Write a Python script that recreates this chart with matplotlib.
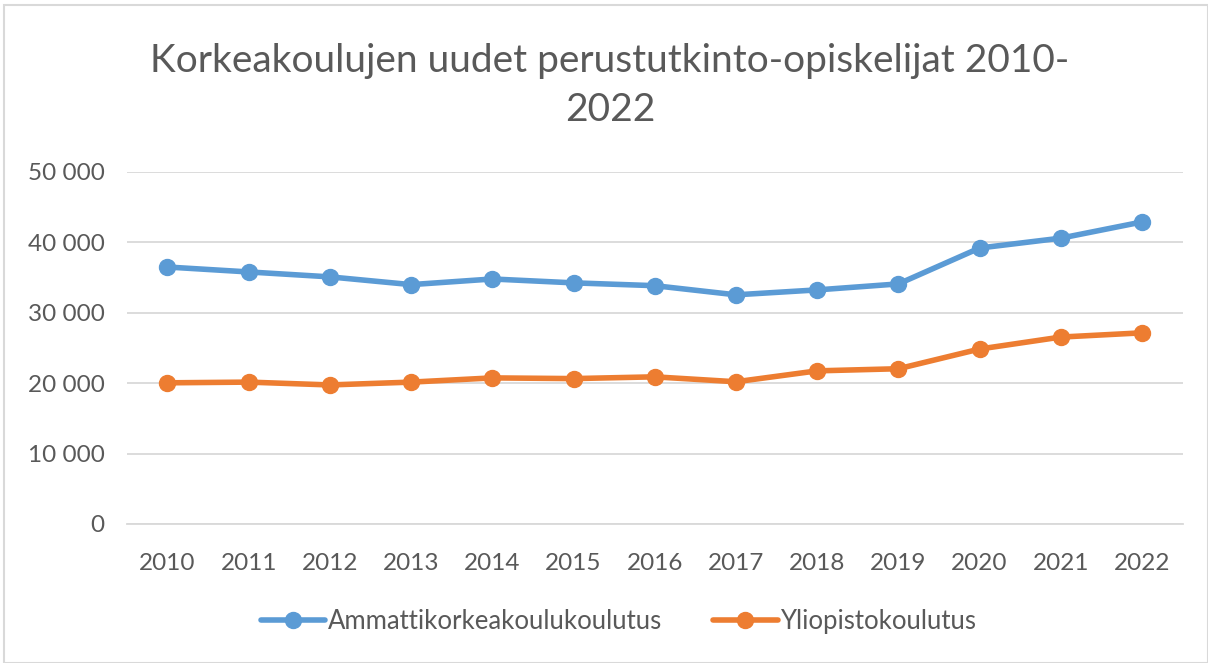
import matplotlib
matplotlib.use("Agg")
import matplotlib.pyplot as plt
from matplotlib.patches import Rectangle
from matplotlib.ticker import FuncFormatter

years = ["2010", "2011", "2012", "2013", "2014", "2015", "2016",
         "2017", "2018", "2019", "2020", "2021", "2022"]
amk = [36500, 35800, 35100, 34000, 34800, 34250, 33850,
       32550, 33250, 34100, 39200, 40600, 42900]
yo = [20050, 20150, 19750, 20150, 20750, 20650, 20900,
      20200, 21750, 22050, 24850, 26550, 27150]
series_names = ["Ammattikorkeakoulukoulutus", "Yliopistokoulutus"]
title = "Korkeakoulujen uudet perustutkinto-opiskelijat 2010-\n2022"

plt.rcParams['font.family'] = ['Lato', 'DejaVu Sans']
gray = "#595959"

fig = plt.figure(figsize=(12.08, 6.63), dpi=100)
fig.patches.append(Rectangle((0.003, 0.0), 0.997, 0.993, transform=fig.transFigure,
                             fill=False, edgecolor="#d9d9d9", linewidth=1.5))
ax = fig.add_axes([0.105, 0.2097, 0.874, 0.5309])

x = list(range(len(years)))
ax.plot(x, amk, color="#5b9bd5", linewidth=4.0, marker="o", markersize=11.5,
        label=series_names[0], solid_capstyle="round")
ax.plot(x, yo, color="#ed7d31", linewidth=4.0, marker="o", markersize=11.5,
        label=series_names[1], solid_capstyle="round")

ax.set_xlim(-0.5, len(years) - 0.5)
ax.set_ylim(0, 50000)
ax.set_yticks([0, 10000, 20000, 30000, 40000, 50000])
ax.yaxis.set_major_formatter(FuncFormatter(lambda v, p: f"{int(v):,}".replace(",", " ")))
ax.set_xticks(x)
ax.set_xticklabels(years)
ax.grid(axis="y", color="#d9d9d9", linewidth=1.3)
ax.set_axisbelow(True)
for s in ["top", "right", "left"]:
    ax.spines[s].set_visible(False)
ax.spines["bottom"].set_color("#d9d9d9")
ax.spines["bottom"].set_linewidth(1.3)
ax.tick_params(axis="both", length=0, labelsize=17.5, colors=gray)
ax.tick_params(axis="x", pad=21)
ax.tick_params(axis="y", pad=16)

fig.text(0.505, 0.935, title, ha="center", va="top", fontsize=28, color=gray,
         linespacing=1.45)

leg = fig.legend(loc="center", bbox_to_anchor=(0.512, 0.063), ncol=2, frameon=False,
                 fontsize=18.5, handlelength=2.5, handletextpad=0.1, columnspacing=2.0)
for t in leg.get_texts():
    t.set_color(gray)

fig.savefig("out.png", dpi=100)
